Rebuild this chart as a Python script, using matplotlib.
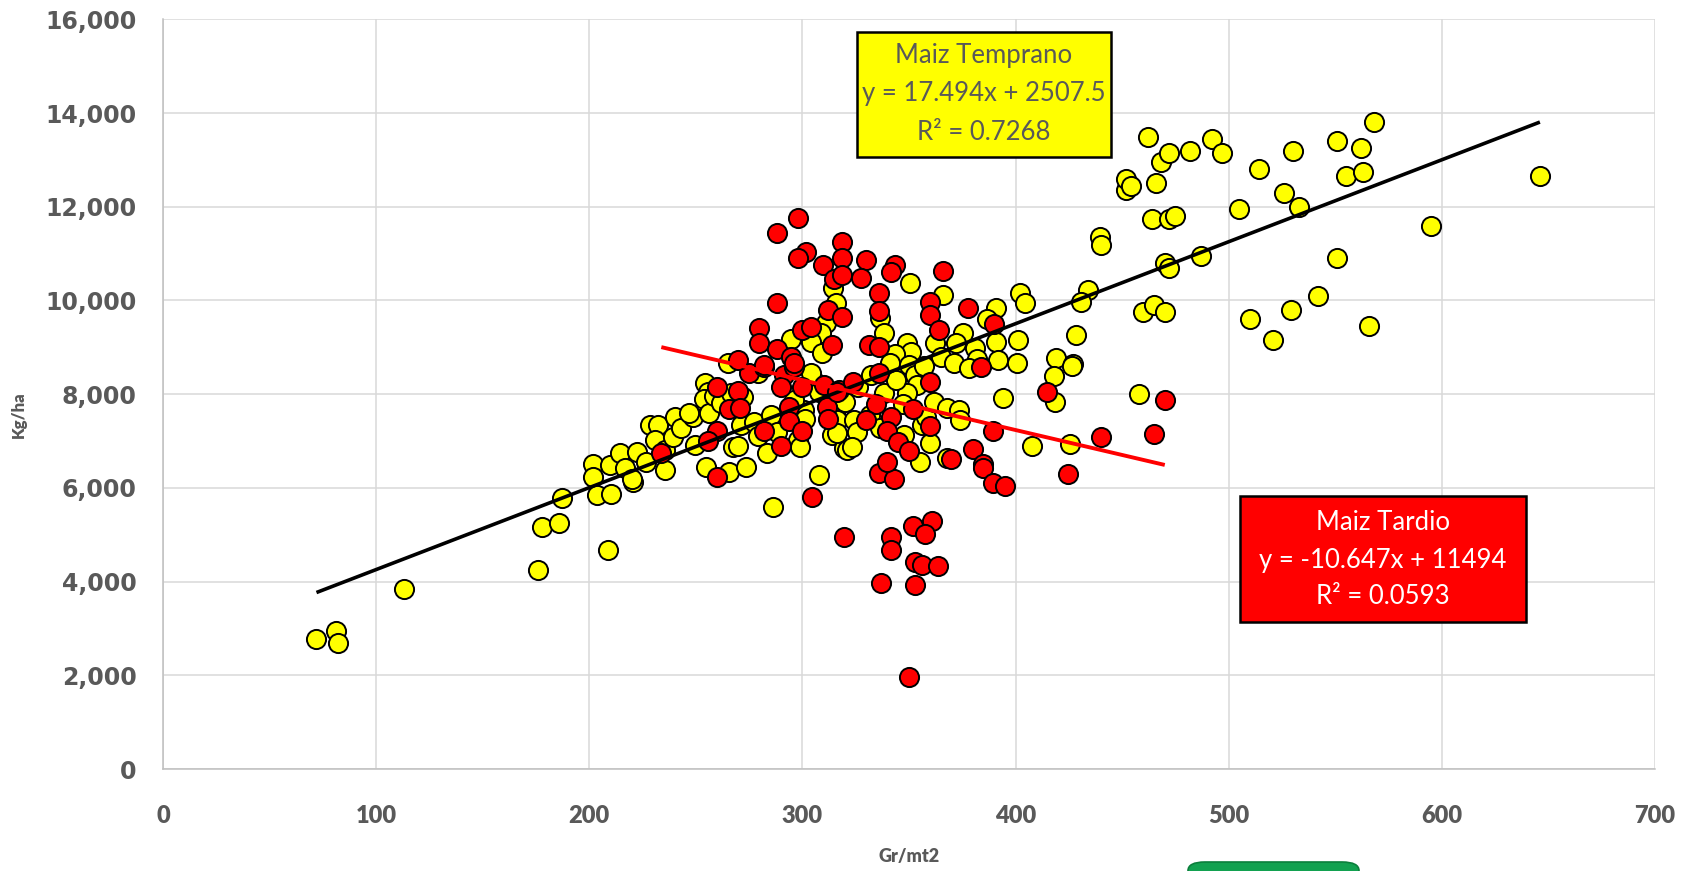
import matplotlib
matplotlib.use("Agg")
import matplotlib.pyplot as plt
from matplotlib.patches import Rectangle, FancyBboxPatch
from matplotlib.ticker import FuncFormatter

# ---------------- data ----------------
temprano_x = [72, 81, 82, 113, 176, 178, 186, 187.1,
    208.6, 201.9, 201.9, 203.4, 210.1, 209.7, 214.3, 216.7, 220.6, 220, 222.4, 226.8,
    228.4, 232.2, 230.7, 235.4, 235.4, 239.3, 240.3, 243.1, 248.6, 247, 249.4, 254.8,
    254.1, 255.6, 254, 256.4, 258.6, 261.7, 265.7, 267.3, 269.6, 273.5, 271.2, 266.5,
    272, 277.4, 279, 285.2, 283.6, 288, 297.7, 299, 300.8, 301.4, 295.9, 307.8, 286,
    314, 314.8, 315.6, 319.6, 265.1, 279,
    314.5, 315.6, 310.9, 308.6, 294.5, 303.9, 309.3,
    350.6, 365.9, 336.6, 338.2, 390.8, 386.4, 349, 351, 362.3, 375.5, 372, 381, 390.8,
    365, 343.4, 391.9, 401.2, 402.3, 404.3, 428.5, 419.2, 427, 434, 430.8, 439.4, 440.2,
    400.5, 371,
    320.2, 316.4, 316.4, 324.2, 325.5, 321, 323.4, 331.9, 336.6, 338.2, 342, 341, 350,
    353, 353.6, 349, 347, 347.5, 356, 357.8, 360, 355.3, 361.5, 367.8, 373.3, 374,
    367.8, 357, 394.2, 407.5, 418.4, 418, 426.5, 425.4, 382, 378,
    306, 304, 326, 332, 344, 308,
    452, 452, 454, 458, 460, 462, 464, 465, 466, 468, 470, 470, 472, 472, 472, 475,
    482, 487, 492, 497, 505, 510, 514, 526, 529, 530, 533, 521, 542, 551, 551, 555,
    562, 563, 566, 568, 595, 646]
temprano_y = [2780, 2950, 2700, 3850, 4250, 5170, 5250, 5780,
    4670, 6520, 6240, 5850, 5880, 6490, 6740, 6420, 6130, 6200, 6770, 6560,
    7340, 7340, 7020, 6380, 6800, 7090, 7520, 7270, 7520, 7600, 6920, 6450,
    8230, 8050, 7900, 7590, 7960, 7810, 6350, 6880, 6900, 6450, 7340, 8020,
    7950, 7410, 7100, 7560, 6740, 7200, 7020, 6870, 7660, 7480, 7880, 6280, 5600,
    7130, 7450, 7680, 6850, 8660, 8450,
    10260, 9940, 9510, 9300, 9170, 9120, 8870,
    10370, 10120, 9620, 9300, 9850, 9600, 9090, 8900, 9090, 9300, 9100, 8980, 9120,
    8800, 8850, 8730, 9160, 10150, 9940, 9260, 8780, 8640, 10220, 9970, 11350, 11180,
    8660, 8660,
    7840, 7450, 7170, 7450, 7200, 6810, 6880, 7560, 7270, 8020, 8550, 8660, 8620,
    8410, 8200, 8020, 7800, 7130, 7340, 7520, 6950, 6560, 7840, 7700, 7660, 7450,
    6640, 8600, 7910, 6890, 7840, 8390, 8600, 6930, 8750, 8550,
    8250, 8450, 8150, 8400, 8300, 8050,
    12350, 12600, 12450, 8000, 9750, 13500, 11750, 9900, 12500, 12950, 10800, 9750,
    10700, 11750, 13150, 11800, 13200, 10950, 13450, 13150, 11950, 9600, 12800,
    12300, 9800, 13200, 12000, 9150, 10100, 13400, 10900, 12650, 13250, 12750, 9450,
    13800, 11600, 12650]

tardio_x = [259.7, 269.8, 265.7, 270.9, 259.7, 255.6, 233.8, 259.7, 293.8, 293.9, 281.9,
    289.9, 300, 304.7, 311.7, 312, 319.5, 275, 282, 291.4, 296, 300, 310, 317, 290,
    297.7, 287.9, 301.5, 297.7, 309.8, 318.7, 318.7, 314.8, 318.7, 287.9, 312, 318.7,
    279.8, 279.8, 287.9, 300, 304.2, 314, 294.5, 296, 269.6, 282,
    330, 343.6, 341.7, 327.7, 365.9, 335.8, 335.8, 360, 360, 377.9, 363.9, 389.9,
    331.2, 335.8, 383.8,
    323.8, 335.8, 360, 316.4, 334.7, 351.9, 341.7, 330, 339.7, 360, 344.9, 349.8,
    369.8, 389.6, 379.9, 384.9, 384.9, 389.6, 395, 335.8, 342.8, 339.7, 414.8, 439.9,
    424.6, 351.9, 360.7, 357.6, 341.7,
    341.7, 352.9, 356, 363.6, 336.9, 352.9, 349.9, 470, 465]
tardio_y = [8160, 8070, 7680, 7700, 7210, 7000, 6740, 6230, 7730, 7430, 7210,
    6890, 7210, 5810, 7730, 7480, 4960, 8450, 8590, 8410, 8590, 8160, 8200, 8090, 8160,
    11770, 11450, 11040, 10900, 10760, 11250, 10900, 10460, 10540, 9940, 9800, 9650,
    9420, 9100, 8960, 9380, 9440, 9060, 8800, 8660, 8730, 8620,
    10860, 10760, 10610, 10470, 10640, 10170, 9780, 9970, 9680, 9850, 9370, 9490,
    9050, 9010, 8590,
    8270, 8460, 8250, 8050, 7800, 7680, 7520, 7450, 7210, 7320, 6970, 6790,
    6610, 7210, 6840, 6510, 6430, 6100, 6040, 6320, 6200, 6560, 8050, 7080,
    6290, 5190, 5290, 5010, 4960,
    4670, 4420, 4360, 4330, 3980, 3930, 1970, 7870, 7150]

temprano_fit = (17.494, 2507.5)
tardio_fit = (-10.647, 11494)
temprano_label = ["Maiz Temprano", "y = 17.494x + 2507.5", "R\u00b2 = 0.7268"]
tardio_label = ["Maiz Tardio", "y = -10.647x + 11494", "R\u00b2 = 0.0593"]
x_ticks = [0, 100, 200, 300, 400, 500, 600, 700]
y_ticks = [0, 2000, 4000, 6000, 8000, 10000, 12000, 14000, 16000]

# ---------------- figure ----------------
W, H = 1691, 871
fig = plt.figure(figsize=(W / 100, H / 100), dpi=100)
fig.patch.set_facecolor("white")

def fx(px):
    return px / W

def fy(py):
    return 1 - py / H

ax = fig.add_axes([fx(163), fy(769), fx(1655) - fx(163), fy(19.4) - fy(769)])
ax.set_xlim(0, 700)
ax.set_ylim(0, 16000)
ax.set_xticks(x_ticks)
ax.set_yticks(y_ticks)
ax.grid(True, color="#D9D9D9", lw=1.1, zorder=0)
ax.set_axisbelow(True)
for s in ["top", "right"]:
    ax.spines[s].set_visible(False)
for s in ["left", "bottom"]:
    ax.spines[s].set_color("#BFBFBF")
    ax.spines[s].set_linewidth(1.1)

ax.yaxis.set_major_formatter(FuncFormatter(lambda v, p: f"{int(v):,}"))
ax.tick_params(axis="both", length=0)
ax.tick_params(axis="y", pad=19)
ax.tick_params(axis="x", pad=26)
for lab in ax.get_yticklabels():
    lab.set_fontfamily("DejaVu Sans")
    lab.set_fontweight("bold")
    lab.set_fontsize(17)
    lab.set_color("#595959")
for lab in ax.get_xticklabels():
    lab.set_fontfamily(["Lato", "DejaVu Sans"])
    lab.set_fontweight("heavy")
    lab.set_fontsize(17)
    lab.set_color("#595959")

ax.scatter(temprano_x, temprano_y, s=190, c="#FFFF00", edgecolors="black",
           linewidths=1.4, zorder=3)
ax.scatter(tardio_x, tardio_y, s=190, c="#FF0000", edgecolors="black",
           linewidths=1.4, zorder=4)

tx = [min(temprano_x), max(temprano_x)]
ax.plot(tx, [temprano_fit[0] * v + temprano_fit[1] for v in tx], color="black",
        lw=2.6, zorder=5, solid_capstyle="butt")
rx = [min(tardio_x), max(tardio_x)]
ax.plot(rx, [tardio_fit[0] * v + tardio_fit[1] for v in rx], color="#FF0000",
        lw=2.8, zorder=6, solid_capstyle="butt")

# axis titles
fig.text(fx(19), fy(415), "Kg/ha", rotation=90, ha="center", va="center",
         fontsize=12, fontweight="heavy", color="#595959", family=["Lato", "DejaVu Sans"])
fig.text(fx(909), fy(856), "Gr/mt2", ha="center", va="center",
         fontsize=13, fontweight="heavy", color="#595959", family=["Lato", "DejaVu Sans"])

# equation boxes
def box(x0, y0, x1, y1, face, tcolor, lines, ys):
    fig.add_artist(Rectangle((fx(x0), fy(y1)), fx(x1) - fx(x0), fy(y0) - fy(y1),
                             transform=fig.transFigure, facecolor=face,
                             edgecolor="black", lw=1.8, zorder=10))
    cx = (x0 + x1) / 2
    for t, yy in zip(lines, ys):
        fig.text(fx(cx), fy(yy), t, ha="center", va="center", fontsize=18.5,
                 color=tcolor, family=["Lato", "DejaVu Sans"], zorder=11)

box(857, 32, 1111, 157, "#FFFF00", "#595959", temprano_label, [56, 94, 132])
box(1240, 496, 1526, 622, "#FF0000", "white", tardio_label, [522, 560, 597])

# green button partly visible at bottom
fig.add_artist(FancyBboxPatch((fx(1188), fy(900)), fx(1359) - fx(1188), fy(862) - fy(900),
                              boxstyle="round,pad=0,rounding_size=0.01",
                              transform=fig.transFigure, facecolor="#12A150",
                              edgecolor="#0B7F3C", lw=1.2, zorder=10, clip_on=False))

fig.savefig("out.png", dpi=100, facecolor="white")
